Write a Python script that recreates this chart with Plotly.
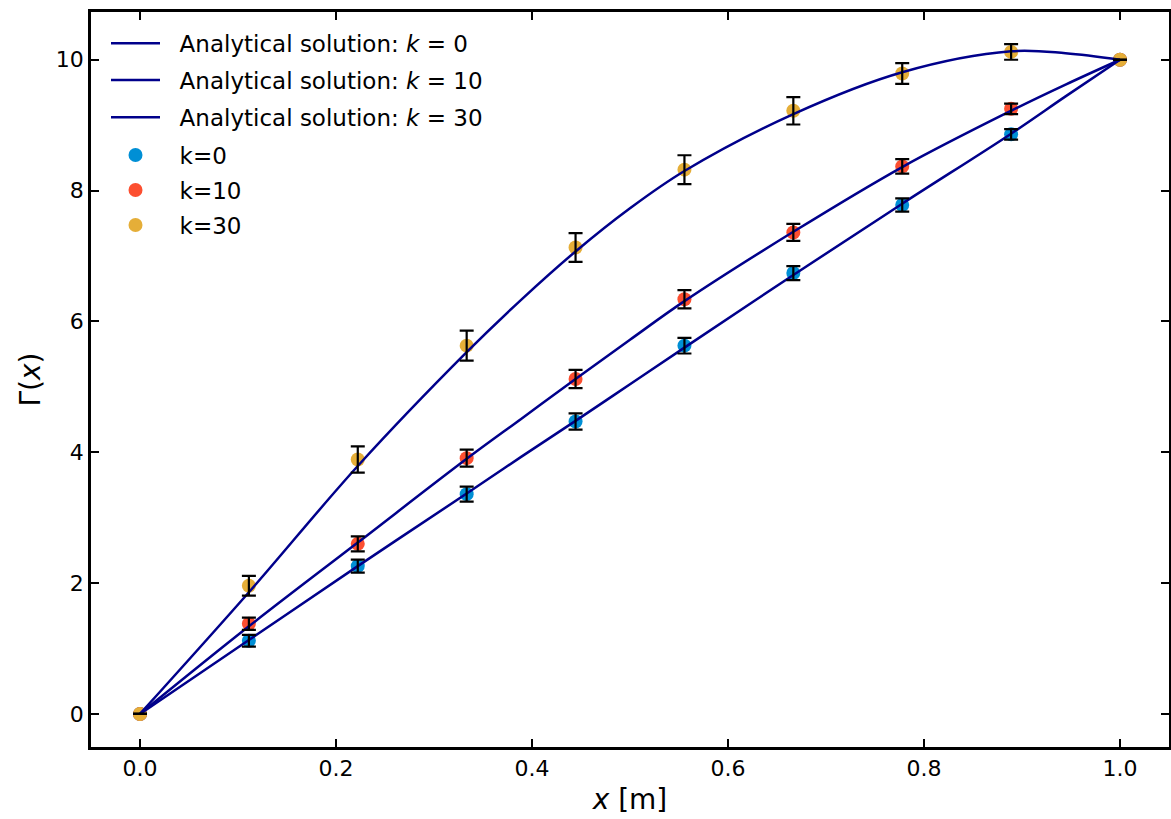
import plotly.graph_objects as go

# Node positions (x in m)
x_nodes = [0, 1/9, 2/9, 3/9, 4/9, 5/9, 6/9, 7/9, 8/9, 1.0]

# Numerical results
k0_vals = [0, 1.12, 2.26, 3.36, 4.47, 5.63, 6.74, 7.78, 8.86, 10]
k10_vals = [0, 1.38, 2.60, 3.91, 5.12, 6.34, 7.36, 8.37, 9.25, 10]
k30_vals = [0, 1.96, 3.89, 5.63, 7.13, 8.32, 9.22, 9.79, 10.12, 10]

k0_err = [0, 0.09, 0.10, 0.115, 0.125, 0.12, 0.107, 0.10, 0.08, 0]
k10_err = [0, 0.094, 0.115, 0.13, 0.14, 0.14, 0.13, 0.11, 0.08, 0]
k30_err = [0, 0.15, 0.20, 0.23, 0.22, 0.22, 0.21, 0.16, 0.12, 0]

# Analytical curves
x_curve = [0, 1/9, 2/9, 3/9, 7/18, 4/9, 1/2, 5/9, 6/9, 7/9, 8/9, 17/18, 1.0]
an_k0 = [0, 1.13, 2.26, 3.37, 3.93, 4.48, 5.04, 5.60, 6.71, 7.80, 8.87, 9.44, 10]
an_k10 = [0, 1.34, 2.62, 3.90, 4.51, 5.12, 5.72, 6.31, 7.37, 8.36, 9.22, 9.62, 10]
an_k30 = [0, 1.86, 3.79, 5.53, 6.33, 7.07, 7.73, 8.30, 9.17, 9.81, 10.13, 10.10, 10]

colors = ["#008fd5", "#fc4f30", "#e5ae38"]
line_color = "#00008b"
FONT = "DejaVu Sans"

# legend row centres (pixels from top) and plot area geometry
PLOT_L, PLOT_R, PLOT_T, PLOT_B = 91, 1169, 12, 747
row_px = [43.3, 80, 117.3, 155, 190, 225]
LEG_X_PX = 106
PAD = "&nbsp;&nbsp;"


def ly(py):
    return (PLOT_B - py) / (PLOT_B - PLOT_T)


fig = go.Figure()

# scatter markers (drawn first, beneath lines)
for i, (name, vals, c) in enumerate([("k=0", k0_vals, colors[0]),
                                     ("k=10", k10_vals, colors[1]),
                                     ("k=30", k30_vals, colors[2])]):
    fig.add_trace(go.Scatter(x=x_nodes, y=vals, mode="markers", name=PAD + name,
                             marker=dict(color=c, size=14, line=dict(width=0)),
                             legend=f"legend{4 + i}"))

# analytical lines
for i, (lab, vals) in enumerate([("0", an_k0), ("10", an_k10), ("30", an_k30)]):
    fig.add_trace(go.Scatter(x=x_curve, y=vals, mode="lines",
                             name=PAD + f"Analytical solution: <i>k</i> = {lab}",
                             line=dict(color=line_color, width=2.5, shape="spline", smoothing=1.0),
                             legend="legend" if i == 0 else f"legend{1 + i}"))

# error bars on top
for vals, errs in [(k0_vals, k0_err), (k10_vals, k10_err), (k30_vals, k30_err)]:
    fig.add_trace(go.Scatter(x=x_nodes, y=vals, mode="markers", showlegend=False,
                             marker=dict(color="rgba(0,0,0,0)", size=1),
                             error_y=dict(type="data", array=errs, visible=True,
                                          color="black", thickness=2.2, width=7),
                             hoverinfo="skip"))

axis_common = dict(showgrid=False, zeroline=False, showline=True, linecolor="black",
                   linewidth=2.5, mirror="ticks", ticks="inside", ticklen=8,
                   tickwidth=2, tickcolor="black", automargin=False,
                   tickfont=dict(family=FONT, size=22, color="black"))

fig.update_xaxes(range=[-0.05, 1.05], tickvals=[0, 0.2, 0.4, 0.6, 0.8, 1.0],
                 ticktext=["0.0", "0.2", "0.4", "0.6", "0.8", "1.0"],
                 title=dict(text="<i>x</i> [m]", font=dict(family=FONT, size=28, color="black"),
                            standoff=10),
                 **axis_common)
fig.update_yaxes(range=[-0.505, 10.73], tickvals=[0, 2, 4, 6, 8, 10],
                 title=dict(text="Γ(<i>x</i>)", font=dict(family=FONT, size=28, color="black"),
                            standoff=8),
                 **axis_common)

legend_base = dict(xanchor="left", yanchor="middle", bgcolor="rgba(0,0,0,0)",
                   font=dict(family=FONT, size=23, color="black"),
                   tracegroupgap=0, itemwidth=49, borderwidth=0)
lx = (LEG_X_PX - PLOT_L) / (PLOT_R - PLOT_L)
legends = {}
for i, py in enumerate(row_px):
    key = "legend" if i == 0 else f"legend{i + 1}"
    legends[key] = dict(x=lx, y=ly(py), **legend_base)

fig.update_layout(
    width=1171, height=819,
    margin=dict(l=PLOT_L, r=1171 - PLOT_R, t=PLOT_T, b=819 - PLOT_B),
    plot_bgcolor="white", paper_bgcolor="white",
    font=dict(family=FONT, color="black"),
    **legends,
)

fig.write_html("out.html", config={"displayModeBar": False},
               post_script="document.body.style.margin='0';document.body.style.overflow='hidden';")
